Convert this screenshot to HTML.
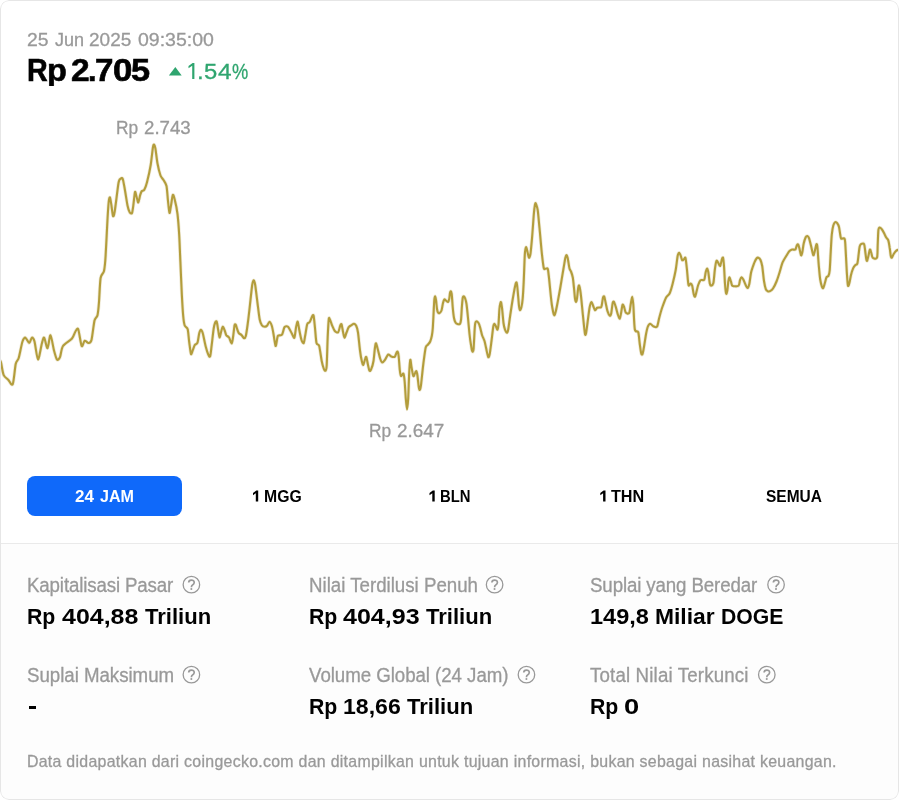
<!DOCTYPE html>
<html><head><meta charset="utf-8"><title>DOGE</title>
<style>
*{margin:0;padding:0;box-sizing:border-box}
html,body{width:899px;height:800px;background:#fff;overflow:hidden}
body{font-family:"Liberation Sans",sans-serif;position:relative}
.card{position:absolute;left:0;top:0;width:899px;height:800px;border-radius:9px;background:#fff;overflow:hidden}
.frame{position:absolute;left:0;top:0;width:899px;height:800px;border:1px solid #e6e6e6;border-radius:9px;pointer-events:none}
.bottom{position:absolute;left:0;top:543px;width:899px;height:257px;background:#fdfdfd;border-top:1px solid #eaeaea}
.t{position:absolute;white-space:nowrap;line-height:1;transform-origin:0 0}
.tl{position:absolute;left:0;top:0;width:899px;height:800px;will-change:transform;opacity:.999}
.gl{position:absolute;line-height:1;transform-origin:0 0;white-space:pre}
.g{color:#999;-webkit-text-stroke:.3px #999}.b{font-weight:700}.k{color:#000}.w{color:#fff}.gr{color:#2fa56f}
.btn{position:absolute;left:27.4px;top:476px;height:40px;width:154.4px;border-radius:8px;background:#0f69fa}
.dash{position:absolute;left:29px;top:706.3px;width:7px;height:2.9px;background:#000}
.q{position:absolute;font-family:"Liberation Sans",sans-serif}
svg.chart{position:absolute;left:0;top:0}
</style></head><body>
<div class="card">
<div class="bottom"></div>
<svg class="chart" width="899" height="800" viewBox="0 0 899 800">
<polygon points="168.9,75.5 181.7,75.5 175.3,66.9" fill="#2fa56f"/>
<polygon points="194.4,63.1 194.4,79.1 192.2,79.1 192.2,65.7 188.5,68.3 188.5,66 192.6,63.1" fill="#2fa56f"/>
<g fill="#000"><polygon points="258.2,490.4 258.2,501.5 255.8,501.5 255.8,493.3 253.0,495.3 253.0,492.9 256.3,490.4"/><polygon points="434.7,490.4 434.7,501.5 432.3,501.5 432.3,493.3 429.5,495.3 429.5,492.9 432.8,490.4"/><polygon points="605.5,490.4 605.5,501.5 603.1,501.5 603.1,493.3 600.3,495.3 600.3,492.9 603.6,490.4"/></g>
<g fill="none" stroke="#b39d3c" stroke-linejoin="round" stroke-linecap="round"><path d="M0.5 361.0C0.6 361.3 0.8 361.2 1.2 363.2C1.6 365.2 2.7 372.9 3.7 375.2C4.7 377.5 6.9 378.4 8.2 379.7C9.5 381.0 11.6 386.4 12.7 384.2C13.8 382.0 14.9 367.7 15.7 364.0C16.5 360.3 17.7 361.1 18.7 358.0C19.7 354.9 21.5 344.3 22.5 341.5C23.5 338.7 24.6 337.5 25.5 337.7C26.4 337.9 28.3 343.0 29.2 343.0C30.1 343.0 31.1 337.9 31.8 337.7C32.5 337.5 33.6 338.4 34.5 341.5C35.4 344.6 37.0 359.3 38.0 359.5C39.0 359.7 41.1 346.1 42.0 343.0C42.9 339.9 43.4 337.0 44.2 337.7C45.0 338.4 46.6 348.6 47.5 348.2C48.4 347.8 49.6 334.9 50.5 335.2C51.4 335.5 53.1 347.1 54.0 350.5C54.9 353.9 56.2 358.6 57.0 359.5C57.8 360.4 59.2 359.1 60.0 357.2C60.8 355.3 61.3 348.6 63.0 346.0C64.7 343.4 70.2 340.6 72.0 338.5C73.8 336.4 74.8 332.3 75.7 331.0C76.6 329.7 77.5 327.4 78.3 329.5C79.1 331.6 80.8 344.4 81.7 346.0C82.6 347.6 83.7 341.1 84.7 340.7C85.7 340.3 87.5 343.1 88.5 343.0C89.5 342.9 90.7 343.1 91.5 340.0C92.3 336.9 93.7 324.0 94.5 320.5C95.3 317.0 96.9 317.8 97.5 315.2C98.1 312.6 98.6 307.2 99.0 302.0C99.4 296.8 99.9 282.3 100.6 278.0C101.3 273.7 103.3 274.1 104.0 271.0C104.7 267.9 105.2 262.4 105.6 256.0C106.0 249.6 106.8 232.6 107.2 225.0C107.6 217.4 108.3 205.8 108.7 202.0C109.1 198.2 109.6 196.9 110.0 197.5C110.4 198.1 111.1 203.4 111.5 206.0C111.9 208.6 112.6 215.2 113.0 216.0C113.4 216.8 113.9 216.1 114.7 211.5C115.5 206.9 117.7 187.6 118.5 183.0C119.3 178.4 120.1 179.4 120.7 178.8C121.3 178.2 122.2 177.6 122.7 178.8C123.2 180.0 123.8 183.8 124.5 187.5C125.2 191.2 126.8 202.0 127.5 205.5C128.2 209.0 129.1 211.1 129.7 212.2C130.3 213.2 131.5 214.1 132.0 213.0C132.5 211.9 133.1 206.9 133.5 204.0C133.9 201.1 134.6 193.1 135.0 192.0C135.4 190.9 136.0 195.0 136.5 196.5C137.0 198.0 137.8 202.7 138.3 202.5C138.8 202.3 139.7 196.6 140.2 195.0C140.7 193.4 141.1 191.9 141.7 191.2C142.3 190.5 143.6 191.0 144.3 189.7C145.0 188.4 146.1 185.7 147.0 182.2C147.9 178.7 149.9 169.9 150.7 165.0C151.5 160.1 152.5 149.8 153.0 147.0C153.5 144.2 153.9 144.5 154.2 144.7C154.5 144.9 154.9 145.9 155.4 148.5C155.9 151.1 156.8 159.7 157.5 163.5C158.2 167.3 159.7 173.2 160.5 175.5C161.3 177.8 162.7 178.5 163.5 180.0C164.3 181.5 165.9 183.1 166.5 186.0C167.1 188.9 167.6 197.2 168.0 201.0C168.4 204.8 169.1 212.4 169.5 213.0C169.9 213.6 170.5 208.0 171.0 205.5C171.5 203.0 172.3 195.8 172.8 195.0C173.3 194.2 174.0 196.8 174.7 199.5C175.4 202.2 176.9 209.0 177.5 214.0C178.1 219.0 178.8 228.3 179.2 235.0C179.6 241.7 180.0 253.7 180.4 262.0C180.8 270.3 181.4 286.4 181.8 294.0C182.2 301.6 182.8 311.6 183.2 316.0C183.6 320.4 184.1 323.7 184.7 325.5C185.3 327.3 187.1 326.9 187.7 329.2C188.3 331.5 188.7 338.5 189.2 342.0C189.7 345.5 190.5 352.9 191.0 354.0C191.5 355.1 192.5 350.8 193.0 349.5C193.5 348.2 194.2 346.0 194.8 345.0C195.4 344.0 196.9 344.4 197.5 342.7C198.1 341.0 198.8 334.8 199.3 333.0C199.8 331.2 200.3 329.7 200.8 329.7C201.3 329.7 202.0 330.6 202.7 333.0C203.4 335.4 204.9 343.5 205.7 346.5C206.5 349.5 207.7 353.3 208.3 354.7C208.9 356.1 209.7 357.6 210.2 356.2C210.7 354.8 211.2 348.9 211.7 345.0C212.2 341.1 213.2 331.6 213.7 328.5C214.2 325.4 214.8 323.5 215.2 322.5C215.6 321.5 216.3 320.6 216.7 321.7C217.1 322.8 217.8 327.8 218.2 330.0C218.6 332.2 219.1 337.3 219.5 337.5C219.9 337.7 220.8 333.0 221.2 331.5C221.6 330.0 222.2 326.9 222.7 326.7C223.2 326.5 224.0 328.8 224.5 330.0C225.0 331.2 225.7 334.1 226.3 335.2C226.9 336.2 228.2 336.3 229.0 337.5C229.8 338.7 231.1 343.7 231.7 343.5C232.3 343.3 232.8 338.5 233.2 336.0C233.6 333.5 234.2 327.1 234.5 325.5C234.8 323.9 235.3 324.2 235.7 324.7C236.1 325.2 236.8 328.0 237.2 329.2C237.6 330.4 238.1 332.2 238.7 333.0C239.3 333.8 241.0 334.5 241.7 335.2C242.4 335.9 243.4 338.1 244.0 338.2C244.6 338.3 245.3 338.0 245.8 336.0C246.3 334.0 247.1 328.4 247.7 324.0C248.3 319.6 249.4 310.0 250.0 304.5C250.6 299.0 251.7 288.4 252.2 285.0C252.7 281.6 253.3 280.2 253.7 280.2C254.1 280.2 254.7 281.8 255.2 285.0C255.7 288.2 256.9 298.2 257.5 303.0C258.1 307.8 259.1 316.4 259.7 319.5C260.3 322.6 261.3 324.5 262.0 325.5C262.7 326.5 264.3 326.7 265.0 326.7C265.7 326.7 266.6 326.2 267.2 325.5C267.8 324.8 268.9 321.7 269.5 321.7C270.1 321.7 271.1 323.8 271.7 325.5C272.3 327.2 273.0 331.1 273.5 334.0C274.0 336.9 275.1 345.4 275.6 346.0C276.1 346.6 276.9 339.5 277.3 338.0C277.7 336.5 277.5 336.0 278.2 335.5C278.9 335.0 281.1 335.9 282.0 334.7C282.9 333.5 283.7 328.3 284.5 327.2C285.3 326.1 287.0 326.0 288.0 326.8C289.0 327.6 290.8 331.7 291.7 333.2C292.6 334.7 293.8 338.6 294.4 337.7C295.0 336.8 295.7 328.7 296.2 326.5C296.7 324.3 297.3 321.3 297.7 321.7C298.1 322.1 298.7 326.9 299.2 329.5C299.7 332.1 300.9 338.1 301.5 340.0C302.1 341.9 303.2 343.6 303.7 343.0C304.2 342.4 304.7 338.1 305.2 335.5C305.7 332.9 306.6 326.1 307.2 324.2C307.8 322.3 309.0 323.1 309.7 322.0C310.4 320.9 311.5 317.6 312.0 316.7C312.5 315.8 313.2 314.1 313.6 315.7C314.0 317.3 314.6 324.2 315.0 328.0C315.4 331.8 315.9 340.5 316.5 343.0C317.1 345.5 318.5 343.5 319.2 346.0C319.9 348.5 321.1 357.9 321.7 361.0C322.3 364.1 323.2 367.1 323.7 368.5C324.2 369.9 325.1 371.1 325.5 370.7C325.9 370.3 326.4 370.2 326.7 365.5C327.0 360.8 327.4 343.5 327.7 337.0C328.0 330.5 328.5 321.4 328.8 319.0C329.1 316.6 329.5 318.8 330.0 319.7C330.5 320.6 331.5 324.1 332.2 325.7C332.9 327.3 334.0 330.1 334.8 331.0C335.6 331.9 337.4 332.9 338.2 332.2C339.0 331.5 339.7 326.8 340.2 325.7C340.7 324.6 341.1 323.4 341.5 324.2C341.9 325.0 342.6 329.8 343.0 331.7C343.4 333.6 344.0 337.6 344.5 337.7C345.0 337.8 345.9 334.0 346.5 332.5C347.1 331.0 348.0 328.2 348.7 327.2C349.4 326.1 351.0 325.5 351.7 325.0C352.4 324.5 353.4 323.7 354.0 323.8C354.6 323.9 355.6 324.5 356.2 325.7C356.8 326.9 357.5 329.0 358.0 332.5C358.5 336.0 359.5 346.5 360.0 350.5C360.5 354.5 361.3 359.0 361.8 361.0C362.3 363.0 362.9 365.2 363.3 365.0C363.7 364.8 364.6 360.6 365.0 359.5C365.4 358.4 365.9 356.4 366.3 357.0C366.7 357.6 367.4 362.1 367.8 364.0C368.2 365.9 369.0 370.0 369.5 370.7C370.0 371.4 370.6 370.6 371.2 369.2C371.8 367.8 373.0 364.0 373.5 361.0C374.0 358.0 374.6 350.0 375.0 347.5C375.4 345.0 375.6 343.1 376.0 343.3C376.4 343.5 377.1 346.8 377.7 349.0C378.3 351.2 379.6 356.8 380.2 358.7C380.8 360.6 381.5 362.3 382.2 362.5C382.9 362.7 384.2 360.9 385.0 359.8C385.8 358.7 387.3 355.0 388.2 354.5C389.1 354.0 390.3 356.2 391.2 356.5C392.1 356.8 394.0 357.3 394.7 356.8C395.4 356.3 396.1 353.4 396.5 352.7C396.9 352.0 397.4 351.2 397.7 351.7C398.0 352.2 398.4 353.9 398.7 356.5C399.0 359.1 399.5 367.3 399.8 370.0C400.1 372.7 400.5 375.5 401.0 376.0C401.5 376.5 403.0 372.9 403.5 373.7C404.0 374.5 404.4 378.5 404.7 382.0C405.0 385.5 405.5 394.6 405.8 398.5C406.1 402.4 406.7 409.5 407.0 409.5C407.3 409.5 407.9 403.6 408.2 398.5C408.5 393.4 408.9 378.4 409.2 373.0C409.5 367.6 410.0 360.6 410.3 359.8C410.6 359.0 411.1 364.7 411.5 367.0C411.9 369.3 412.8 375.1 413.3 376.0C413.8 376.9 414.4 374.4 414.8 373.7C415.2 373.0 415.9 370.9 416.3 371.2C416.7 371.5 417.2 373.9 417.5 376.0C417.8 378.1 418.4 384.5 418.7 386.5C419.0 388.5 419.4 390.2 419.7 390.0C420.0 389.8 420.5 388.9 421.0 385.0C421.5 381.1 422.8 367.8 423.5 362.5C424.2 357.2 425.1 350.0 425.7 347.5C426.3 345.0 427.4 345.3 428.0 344.5C428.6 343.7 429.7 342.7 430.2 341.5C430.7 340.3 431.4 337.9 431.8 336.0C432.2 334.1 432.6 330.9 432.8 328.0C433.0 325.1 433.3 318.9 433.5 315.0C433.7 311.1 434.1 302.6 434.3 300.0C434.5 297.4 435.0 296.3 435.2 296.3C435.4 296.3 435.7 298.2 436.0 300.0C436.3 301.8 436.7 307.2 437.0 309.0C437.3 310.8 437.6 311.9 438.0 312.5C438.4 313.1 439.0 313.3 439.5 313.0C440.0 312.7 441.0 311.9 441.5 310.5C442.0 309.1 442.6 304.5 443.0 303.0C443.4 301.5 443.9 299.9 444.3 299.5C444.7 299.1 445.5 300.1 446.0 300.5C446.5 300.9 447.6 302.2 448.0 302.0C448.4 301.8 448.9 300.3 449.2 299.0C449.5 297.7 449.8 294.1 450.0 293.0C450.2 291.9 450.6 291.2 450.8 291.3C451.0 291.4 451.4 291.8 451.7 294.0C452.0 296.2 452.4 303.6 452.7 307.0C453.0 310.4 453.6 315.8 454.0 318.0C454.4 320.2 455.0 321.7 455.5 322.5C456.0 323.3 456.9 323.8 457.5 324.0C458.1 324.2 459.5 324.4 460.0 323.8C460.5 323.2 460.7 322.2 461.0 320.0C461.3 317.8 461.6 311.1 461.8 308.0C462.0 304.9 462.5 299.6 462.7 298.0C462.9 296.4 463.2 296.3 463.5 296.3C463.8 296.3 464.6 296.9 465.0 298.0C465.4 299.1 466.1 301.2 466.5 304.0C466.9 306.8 467.6 313.8 468.0 318.0C468.4 322.2 469.1 330.2 469.5 334.0C469.9 337.8 470.6 342.7 471.0 345.0C471.4 347.3 471.7 349.6 472.0 350.5C472.3 351.4 472.6 351.9 472.8 351.7C473.0 351.5 473.4 351.8 473.6 349.0C473.8 346.2 474.3 335.6 474.5 332.0C474.7 328.4 475.0 324.5 475.3 323.0C475.6 321.5 476.1 321.2 476.5 321.2C476.9 321.2 478.0 322.2 478.5 323.0C479.0 323.8 479.5 325.3 480.0 327.0C480.5 328.7 481.4 333.0 482.0 335.0C482.6 337.0 483.9 338.9 484.5 341.0C485.1 343.1 486.0 347.7 486.5 350.0C487.0 352.3 487.8 356.7 488.3 357.2C488.8 357.7 489.4 355.8 489.8 353.5C490.2 351.2 491.0 344.8 491.5 341.0C492.0 337.2 492.9 328.9 493.3 326.5C493.7 324.1 494.1 323.7 494.5 323.7C494.9 323.7 495.6 325.7 496.0 326.5C496.4 327.3 497.1 330.0 497.5 329.7C497.9 329.4 498.2 327.3 498.5 324.5C498.8 321.7 499.1 312.6 499.4 309.5C499.7 306.4 500.4 302.2 500.8 302.0C501.2 301.8 501.6 305.1 502.0 308.0C502.4 310.9 503.1 320.0 503.5 323.0C503.9 326.0 504.5 328.3 505.0 329.7C505.5 331.1 506.5 332.8 507.0 332.7C507.5 332.6 507.9 331.4 508.3 329.0C508.7 326.6 509.6 319.5 510.2 315.5C510.8 311.5 511.8 304.7 512.5 300.5C513.2 296.3 514.6 288.2 515.2 285.7C515.8 283.2 516.2 281.9 516.6 282.6C517.0 283.3 517.4 287.7 517.7 291.0C518.0 294.3 518.7 303.3 519.0 306.0C519.3 308.7 519.6 310.1 520.0 310.2C520.4 310.3 521.1 308.3 521.5 306.7C521.9 305.1 522.4 302.0 522.7 298.5C523.0 295.0 523.4 288.1 523.7 282.0C524.0 275.9 524.5 259.9 524.8 255.0C525.1 250.1 525.6 247.6 526.0 247.2C526.4 246.8 527.1 250.5 527.5 252.0C527.9 253.5 528.6 257.5 529.0 257.7C529.4 257.9 530.1 256.2 530.5 253.5C530.9 250.8 531.5 244.0 532.0 238.5C532.5 233.0 533.4 219.3 533.8 214.5C534.2 209.7 534.7 206.1 535.0 204.5C535.3 202.9 535.4 203.0 535.6 203.0C535.8 203.0 535.9 203.5 536.2 204.5C536.5 205.5 537.2 206.7 537.7 210.0C538.2 213.3 538.9 222.1 539.5 228.0C540.1 233.9 541.1 246.4 541.7 252.0C542.3 257.6 543.2 265.3 543.7 267.7C544.2 270.1 544.6 268.6 545.2 268.8C545.8 269.0 547.2 267.8 547.7 268.8C548.2 269.8 548.4 272.9 548.8 276.0C549.2 279.1 549.9 287.0 550.3 291.0C550.7 295.0 551.4 301.5 551.8 304.5C552.2 307.5 553.0 311.2 553.3 312.7C553.6 314.2 553.9 315.2 554.2 315.3C554.5 315.4 554.7 315.2 555.2 313.5C555.7 311.8 556.8 306.8 557.5 303.0C558.2 299.2 559.7 291.3 560.5 286.5C561.3 281.7 562.8 272.5 563.5 268.5C564.2 264.5 564.9 259.9 565.3 258.0C565.7 256.1 566.2 255.0 566.5 255.0C566.8 255.0 567.3 256.1 567.7 258.0C568.1 259.9 569.0 266.6 569.5 268.5C570.0 270.4 570.5 270.2 571.0 271.5C571.5 272.8 572.4 275.2 572.8 277.5C573.2 279.8 573.7 285.1 574.0 288.0C574.3 290.9 574.7 296.5 575.0 298.5C575.3 300.5 575.7 302.0 576.0 302.0C576.3 302.0 576.7 300.5 577.0 298.5C577.3 296.5 577.9 289.8 578.2 288.0C578.5 286.2 578.9 285.0 579.2 285.6C579.5 286.2 580.1 289.1 580.5 292.0C580.9 294.9 581.6 301.7 582.0 306.0C582.4 310.3 583.3 319.1 583.7 323.0C584.1 326.9 584.7 332.5 585.0 334.0C585.3 335.5 585.6 335.0 586.0 333.5C586.4 332.0 587.0 326.7 587.5 323.0C588.0 319.3 589.1 309.9 589.7 307.0C590.3 304.1 591.0 302.1 591.5 302.0C592.0 301.9 592.7 304.9 593.2 306.0C593.7 307.1 594.4 309.9 595.0 310.2C595.6 310.5 596.4 308.2 597.2 307.8C598.0 307.4 600.4 307.7 601.0 307.3C601.6 306.9 601.5 306.3 601.8 305.0C602.1 303.7 602.7 298.9 603.0 297.7C603.3 296.5 603.8 295.8 604.2 296.5C604.6 297.2 605.2 300.9 605.7 303.0C606.2 305.1 606.9 309.4 607.5 311.2C608.1 313.0 609.2 315.4 609.7 315.7C610.2 316.0 610.8 315.3 611.2 313.5C611.6 311.7 612.3 304.6 612.7 303.0C613.1 301.4 613.6 301.3 614.0 301.8C614.4 302.3 615.1 304.9 615.7 306.7C616.3 308.5 617.4 313.3 618.0 315.0C618.6 316.7 619.4 318.9 619.8 318.7C620.2 318.5 620.6 315.4 621.0 313.5C621.4 311.6 622.1 305.8 622.5 304.8C622.9 303.8 623.5 305.6 624.0 306.7C624.5 307.8 625.1 311.8 625.8 312.7C626.5 313.6 628.5 314.1 629.2 313.0C629.9 311.9 630.3 306.8 630.7 304.5C631.1 302.2 631.8 296.7 632.2 296.7C632.6 296.7 632.9 299.9 633.3 304.5C633.7 309.1 634.1 325.3 634.8 329.2C635.5 333.1 637.5 330.2 638.2 332.2C638.9 334.2 639.3 340.6 639.7 343.5C640.1 346.4 640.8 351.7 641.2 353.2C641.6 354.7 642.0 355.0 642.4 354.3C642.8 353.6 643.3 350.6 643.8 348.0C644.3 345.4 645.2 338.9 645.7 336.0C646.2 333.1 647.1 328.7 647.7 327.0C648.3 325.3 649.4 323.8 650.2 323.7C651.0 323.6 652.2 325.8 653.2 326.2C654.2 326.6 656.2 327.8 657.0 326.7C657.8 325.6 658.5 320.7 659.2 318.0C659.9 315.3 661.2 310.3 662.2 307.5C663.2 304.7 665.0 299.7 666.0 297.7C667.0 295.7 668.8 295.2 669.7 293.2C670.6 291.2 671.9 286.7 672.7 283.5C673.5 280.3 675.0 273.9 675.7 270.0C676.4 266.1 677.2 258.1 677.7 255.7C678.2 253.3 678.8 252.7 679.2 252.7C679.6 252.7 680.3 254.6 680.7 255.7C681.1 256.8 681.7 259.7 682.2 260.2C682.7 260.7 683.5 259.5 684.0 259.2C684.5 258.9 685.1 256.5 685.5 258.0C685.9 259.5 686.6 266.2 687.0 270.0C687.4 273.8 688.0 283.1 688.5 285.0C689.0 286.9 690.2 283.4 690.7 283.5C691.2 283.6 691.8 284.2 692.2 285.7C692.6 287.2 693.3 292.5 693.7 294.0C694.1 295.5 694.6 296.9 695.0 296.7C695.4 296.5 695.9 294.1 696.3 292.5C696.7 290.9 697.6 286.7 698.2 285.0C698.8 283.3 699.7 280.9 700.5 280.2C701.3 279.5 703.5 280.8 704.2 279.7C704.9 278.6 705.3 273.8 705.7 272.2C706.1 270.6 706.8 268.5 707.2 268.5C707.6 268.5 707.9 270.1 708.3 272.2C708.7 274.3 709.4 281.6 709.8 283.5C710.2 285.4 710.5 285.8 711.0 285.7C711.5 285.6 712.9 285.2 713.4 283.0C713.9 280.8 714.4 273.1 714.8 270.0C715.2 266.9 716.0 262.1 716.4 261.0C716.8 259.9 717.5 261.6 718.0 262.3C718.5 263.0 719.7 266.3 720.2 266.0C720.7 265.7 721.3 261.2 721.7 260.0C722.1 258.8 722.7 256.9 723.0 257.7C723.3 258.5 723.7 262.3 724.0 266.0C724.3 269.7 724.7 280.1 725.0 284.0C725.3 287.9 725.9 292.9 726.2 293.7C726.5 294.5 727.1 291.8 727.4 290.0C727.7 288.2 728.1 282.8 728.4 281.0C728.7 279.2 729.1 277.1 729.5 277.2C729.9 277.3 730.6 280.5 731.0 281.7C731.4 282.9 731.5 285.2 732.5 285.8C733.5 286.4 737.5 286.6 738.5 285.8C739.5 285.0 739.6 281.4 740.0 280.2C740.4 279.0 741.0 277.3 741.5 277.2C742.0 277.1 742.7 278.3 743.3 279.5C743.9 280.7 745.4 284.6 746.0 285.8C746.6 287.0 747.3 288.3 747.8 288.0C748.3 287.7 748.8 286.2 749.3 284.0C749.8 281.8 750.5 274.9 751.2 272.0C751.9 269.1 753.5 264.9 754.2 263.0C754.9 261.1 755.9 259.2 756.5 258.5C757.1 257.8 757.7 257.5 758.3 257.7C758.9 257.9 760.0 258.8 760.5 260.0C761.0 261.2 761.7 263.1 762.2 266.0C762.7 268.9 763.5 277.8 764.0 281.0C764.5 284.2 765.3 287.8 765.8 289.2C766.3 290.6 767.1 290.9 767.7 291.2C768.3 291.5 769.3 291.6 770.0 291.2C770.7 290.8 772.1 289.9 773.0 288.5C773.9 287.1 775.8 283.3 776.7 281.0C777.6 278.7 778.9 274.6 779.7 272.0C780.5 269.4 781.7 264.5 782.7 262.2C783.7 259.9 785.5 257.1 786.5 255.5C787.5 253.9 788.7 251.8 789.5 251.0C790.3 250.2 791.4 249.7 792.2 249.5C793.0 249.3 794.8 250.1 795.4 249.5C796.0 248.9 796.4 246.2 796.8 245.5C797.2 244.8 797.7 243.9 798.1 244.4C798.5 244.9 799.1 247.3 799.5 248.8C799.9 250.3 800.6 254.6 801.0 255.2C801.4 255.8 801.8 254.4 802.2 252.8C802.6 251.2 803.2 245.7 803.7 243.5C804.2 241.3 805.2 238.4 805.7 237.3C806.2 236.2 806.9 235.9 807.4 236.0C807.9 236.1 808.5 236.7 809.0 238.2C809.5 239.7 810.6 244.1 811.2 246.5C811.8 248.9 812.8 254.5 813.3 255.2C813.8 255.9 814.3 253.0 814.7 251.5C815.1 250.0 816.1 244.7 816.5 244.2C816.9 243.7 817.2 245.2 817.5 248.0C817.8 250.8 818.3 260.1 818.7 264.5C819.1 268.9 819.7 276.4 820.2 279.5C820.7 282.6 821.6 285.8 822.0 287.0C822.4 288.2 822.9 288.4 823.3 287.8C823.7 287.2 824.6 284.0 825.0 282.5C825.4 281.0 826.0 278.2 826.5 277.2C827.0 276.2 828.1 276.6 828.5 275.7C828.9 274.8 829.4 273.7 829.7 270.5C830.0 267.3 830.4 257.5 830.7 252.5C831.0 247.5 831.4 238.3 831.8 234.5C832.2 230.7 832.8 227.2 833.3 225.5C833.8 223.8 834.7 222.5 835.2 222.2C835.7 221.9 836.7 222.5 837.2 223.2C837.7 223.9 838.6 225.4 839.0 227.0C839.4 228.6 839.9 232.9 840.2 234.5C840.5 236.1 840.6 238.1 841.2 238.7C841.8 239.3 844.1 237.3 844.7 239.0C845.3 240.7 845.4 246.4 845.7 251.0C846.0 255.6 846.5 267.4 846.8 272.0C847.1 276.6 847.5 282.0 847.7 284.0C847.9 286.0 848.1 286.2 848.4 286.0C848.7 285.8 849.1 284.0 849.5 282.5C849.9 281.0 850.5 277.0 851.0 275.0C851.5 273.0 852.6 269.6 853.2 268.2C853.8 266.8 854.6 265.8 855.2 265.2C855.8 264.6 856.8 265.1 857.3 263.7C857.8 262.3 858.2 257.9 858.5 255.5C858.8 253.1 859.3 248.1 859.7 246.5C860.1 244.9 860.6 244.3 861.2 244.0C861.8 243.7 863.4 243.0 864.0 244.0C864.6 245.0 864.9 248.9 865.2 251.0C865.5 253.1 866.0 257.8 866.3 259.2C866.6 260.6 866.9 261.2 867.2 260.7C867.5 260.2 868.1 257.1 868.5 255.5C868.9 253.9 869.5 249.9 869.9 249.5C870.3 249.1 870.8 251.4 871.2 252.5C871.6 253.6 871.9 257.0 872.7 257.7C873.5 258.4 876.3 259.5 877.0 257.7C877.7 255.9 877.5 248.9 877.7 245.0C877.9 241.1 878.1 232.4 878.4 230.0C878.7 227.6 879.0 227.6 879.5 227.5C880.0 227.4 881.1 228.4 881.7 229.2C882.3 230.0 883.4 231.8 884.0 233.0C884.6 234.2 885.6 236.5 886.2 237.5C886.8 238.5 887.7 238.7 888.2 240.2C888.7 241.7 889.4 245.9 889.7 248.0C890.1 250.1 890.4 254.1 890.7 255.5C891.0 256.9 891.4 257.9 891.8 257.7C892.2 257.5 893.1 254.9 893.7 254.0C894.3 253.1 895.4 251.6 896.0 251.0C896.6 250.4 897.5 250.0 897.8 249.8" stroke-width="3.6" stroke-opacity=".2"/><path d="M0.5 361.0C0.6 361.3 0.8 361.2 1.2 363.2C1.6 365.2 2.7 372.9 3.7 375.2C4.7 377.5 6.9 378.4 8.2 379.7C9.5 381.0 11.6 386.4 12.7 384.2C13.8 382.0 14.9 367.7 15.7 364.0C16.5 360.3 17.7 361.1 18.7 358.0C19.7 354.9 21.5 344.3 22.5 341.5C23.5 338.7 24.6 337.5 25.5 337.7C26.4 337.9 28.3 343.0 29.2 343.0C30.1 343.0 31.1 337.9 31.8 337.7C32.5 337.5 33.6 338.4 34.5 341.5C35.4 344.6 37.0 359.3 38.0 359.5C39.0 359.7 41.1 346.1 42.0 343.0C42.9 339.9 43.4 337.0 44.2 337.7C45.0 338.4 46.6 348.6 47.5 348.2C48.4 347.8 49.6 334.9 50.5 335.2C51.4 335.5 53.1 347.1 54.0 350.5C54.9 353.9 56.2 358.6 57.0 359.5C57.8 360.4 59.2 359.1 60.0 357.2C60.8 355.3 61.3 348.6 63.0 346.0C64.7 343.4 70.2 340.6 72.0 338.5C73.8 336.4 74.8 332.3 75.7 331.0C76.6 329.7 77.5 327.4 78.3 329.5C79.1 331.6 80.8 344.4 81.7 346.0C82.6 347.6 83.7 341.1 84.7 340.7C85.7 340.3 87.5 343.1 88.5 343.0C89.5 342.9 90.7 343.1 91.5 340.0C92.3 336.9 93.7 324.0 94.5 320.5C95.3 317.0 96.9 317.8 97.5 315.2C98.1 312.6 98.6 307.2 99.0 302.0C99.4 296.8 99.9 282.3 100.6 278.0C101.3 273.7 103.3 274.1 104.0 271.0C104.7 267.9 105.2 262.4 105.6 256.0C106.0 249.6 106.8 232.6 107.2 225.0C107.6 217.4 108.3 205.8 108.7 202.0C109.1 198.2 109.6 196.9 110.0 197.5C110.4 198.1 111.1 203.4 111.5 206.0C111.9 208.6 112.6 215.2 113.0 216.0C113.4 216.8 113.9 216.1 114.7 211.5C115.5 206.9 117.7 187.6 118.5 183.0C119.3 178.4 120.1 179.4 120.7 178.8C121.3 178.2 122.2 177.6 122.7 178.8C123.2 180.0 123.8 183.8 124.5 187.5C125.2 191.2 126.8 202.0 127.5 205.5C128.2 209.0 129.1 211.1 129.7 212.2C130.3 213.2 131.5 214.1 132.0 213.0C132.5 211.9 133.1 206.9 133.5 204.0C133.9 201.1 134.6 193.1 135.0 192.0C135.4 190.9 136.0 195.0 136.5 196.5C137.0 198.0 137.8 202.7 138.3 202.5C138.8 202.3 139.7 196.6 140.2 195.0C140.7 193.4 141.1 191.9 141.7 191.2C142.3 190.5 143.6 191.0 144.3 189.7C145.0 188.4 146.1 185.7 147.0 182.2C147.9 178.7 149.9 169.9 150.7 165.0C151.5 160.1 152.5 149.8 153.0 147.0C153.5 144.2 153.9 144.5 154.2 144.7C154.5 144.9 154.9 145.9 155.4 148.5C155.9 151.1 156.8 159.7 157.5 163.5C158.2 167.3 159.7 173.2 160.5 175.5C161.3 177.8 162.7 178.5 163.5 180.0C164.3 181.5 165.9 183.1 166.5 186.0C167.1 188.9 167.6 197.2 168.0 201.0C168.4 204.8 169.1 212.4 169.5 213.0C169.9 213.6 170.5 208.0 171.0 205.5C171.5 203.0 172.3 195.8 172.8 195.0C173.3 194.2 174.0 196.8 174.7 199.5C175.4 202.2 176.9 209.0 177.5 214.0C178.1 219.0 178.8 228.3 179.2 235.0C179.6 241.7 180.0 253.7 180.4 262.0C180.8 270.3 181.4 286.4 181.8 294.0C182.2 301.6 182.8 311.6 183.2 316.0C183.6 320.4 184.1 323.7 184.7 325.5C185.3 327.3 187.1 326.9 187.7 329.2C188.3 331.5 188.7 338.5 189.2 342.0C189.7 345.5 190.5 352.9 191.0 354.0C191.5 355.1 192.5 350.8 193.0 349.5C193.5 348.2 194.2 346.0 194.8 345.0C195.4 344.0 196.9 344.4 197.5 342.7C198.1 341.0 198.8 334.8 199.3 333.0C199.8 331.2 200.3 329.7 200.8 329.7C201.3 329.7 202.0 330.6 202.7 333.0C203.4 335.4 204.9 343.5 205.7 346.5C206.5 349.5 207.7 353.3 208.3 354.7C208.9 356.1 209.7 357.6 210.2 356.2C210.7 354.8 211.2 348.9 211.7 345.0C212.2 341.1 213.2 331.6 213.7 328.5C214.2 325.4 214.8 323.5 215.2 322.5C215.6 321.5 216.3 320.6 216.7 321.7C217.1 322.8 217.8 327.8 218.2 330.0C218.6 332.2 219.1 337.3 219.5 337.5C219.9 337.7 220.8 333.0 221.2 331.5C221.6 330.0 222.2 326.9 222.7 326.7C223.2 326.5 224.0 328.8 224.5 330.0C225.0 331.2 225.7 334.1 226.3 335.2C226.9 336.2 228.2 336.3 229.0 337.5C229.8 338.7 231.1 343.7 231.7 343.5C232.3 343.3 232.8 338.5 233.2 336.0C233.6 333.5 234.2 327.1 234.5 325.5C234.8 323.9 235.3 324.2 235.7 324.7C236.1 325.2 236.8 328.0 237.2 329.2C237.6 330.4 238.1 332.2 238.7 333.0C239.3 333.8 241.0 334.5 241.7 335.2C242.4 335.9 243.4 338.1 244.0 338.2C244.6 338.3 245.3 338.0 245.8 336.0C246.3 334.0 247.1 328.4 247.7 324.0C248.3 319.6 249.4 310.0 250.0 304.5C250.6 299.0 251.7 288.4 252.2 285.0C252.7 281.6 253.3 280.2 253.7 280.2C254.1 280.2 254.7 281.8 255.2 285.0C255.7 288.2 256.9 298.2 257.5 303.0C258.1 307.8 259.1 316.4 259.7 319.5C260.3 322.6 261.3 324.5 262.0 325.5C262.7 326.5 264.3 326.7 265.0 326.7C265.7 326.7 266.6 326.2 267.2 325.5C267.8 324.8 268.9 321.7 269.5 321.7C270.1 321.7 271.1 323.8 271.7 325.5C272.3 327.2 273.0 331.1 273.5 334.0C274.0 336.9 275.1 345.4 275.6 346.0C276.1 346.6 276.9 339.5 277.3 338.0C277.7 336.5 277.5 336.0 278.2 335.5C278.9 335.0 281.1 335.9 282.0 334.7C282.9 333.5 283.7 328.3 284.5 327.2C285.3 326.1 287.0 326.0 288.0 326.8C289.0 327.6 290.8 331.7 291.7 333.2C292.6 334.7 293.8 338.6 294.4 337.7C295.0 336.8 295.7 328.7 296.2 326.5C296.7 324.3 297.3 321.3 297.7 321.7C298.1 322.1 298.7 326.9 299.2 329.5C299.7 332.1 300.9 338.1 301.5 340.0C302.1 341.9 303.2 343.6 303.7 343.0C304.2 342.4 304.7 338.1 305.2 335.5C305.7 332.9 306.6 326.1 307.2 324.2C307.8 322.3 309.0 323.1 309.7 322.0C310.4 320.9 311.5 317.6 312.0 316.7C312.5 315.8 313.2 314.1 313.6 315.7C314.0 317.3 314.6 324.2 315.0 328.0C315.4 331.8 315.9 340.5 316.5 343.0C317.1 345.5 318.5 343.5 319.2 346.0C319.9 348.5 321.1 357.9 321.7 361.0C322.3 364.1 323.2 367.1 323.7 368.5C324.2 369.9 325.1 371.1 325.5 370.7C325.9 370.3 326.4 370.2 326.7 365.5C327.0 360.8 327.4 343.5 327.7 337.0C328.0 330.5 328.5 321.4 328.8 319.0C329.1 316.6 329.5 318.8 330.0 319.7C330.5 320.6 331.5 324.1 332.2 325.7C332.9 327.3 334.0 330.1 334.8 331.0C335.6 331.9 337.4 332.9 338.2 332.2C339.0 331.5 339.7 326.8 340.2 325.7C340.7 324.6 341.1 323.4 341.5 324.2C341.9 325.0 342.6 329.8 343.0 331.7C343.4 333.6 344.0 337.6 344.5 337.7C345.0 337.8 345.9 334.0 346.5 332.5C347.1 331.0 348.0 328.2 348.7 327.2C349.4 326.1 351.0 325.5 351.7 325.0C352.4 324.5 353.4 323.7 354.0 323.8C354.6 323.9 355.6 324.5 356.2 325.7C356.8 326.9 357.5 329.0 358.0 332.5C358.5 336.0 359.5 346.5 360.0 350.5C360.5 354.5 361.3 359.0 361.8 361.0C362.3 363.0 362.9 365.2 363.3 365.0C363.7 364.8 364.6 360.6 365.0 359.5C365.4 358.4 365.9 356.4 366.3 357.0C366.7 357.6 367.4 362.1 367.8 364.0C368.2 365.9 369.0 370.0 369.5 370.7C370.0 371.4 370.6 370.6 371.2 369.2C371.8 367.8 373.0 364.0 373.5 361.0C374.0 358.0 374.6 350.0 375.0 347.5C375.4 345.0 375.6 343.1 376.0 343.3C376.4 343.5 377.1 346.8 377.7 349.0C378.3 351.2 379.6 356.8 380.2 358.7C380.8 360.6 381.5 362.3 382.2 362.5C382.9 362.7 384.2 360.9 385.0 359.8C385.8 358.7 387.3 355.0 388.2 354.5C389.1 354.0 390.3 356.2 391.2 356.5C392.1 356.8 394.0 357.3 394.7 356.8C395.4 356.3 396.1 353.4 396.5 352.7C396.9 352.0 397.4 351.2 397.7 351.7C398.0 352.2 398.4 353.9 398.7 356.5C399.0 359.1 399.5 367.3 399.8 370.0C400.1 372.7 400.5 375.5 401.0 376.0C401.5 376.5 403.0 372.9 403.5 373.7C404.0 374.5 404.4 378.5 404.7 382.0C405.0 385.5 405.5 394.6 405.8 398.5C406.1 402.4 406.7 409.5 407.0 409.5C407.3 409.5 407.9 403.6 408.2 398.5C408.5 393.4 408.9 378.4 409.2 373.0C409.5 367.6 410.0 360.6 410.3 359.8C410.6 359.0 411.1 364.7 411.5 367.0C411.9 369.3 412.8 375.1 413.3 376.0C413.8 376.9 414.4 374.4 414.8 373.7C415.2 373.0 415.9 370.9 416.3 371.2C416.7 371.5 417.2 373.9 417.5 376.0C417.8 378.1 418.4 384.5 418.7 386.5C419.0 388.5 419.4 390.2 419.7 390.0C420.0 389.8 420.5 388.9 421.0 385.0C421.5 381.1 422.8 367.8 423.5 362.5C424.2 357.2 425.1 350.0 425.7 347.5C426.3 345.0 427.4 345.3 428.0 344.5C428.6 343.7 429.7 342.7 430.2 341.5C430.7 340.3 431.4 337.9 431.8 336.0C432.2 334.1 432.6 330.9 432.8 328.0C433.0 325.1 433.3 318.9 433.5 315.0C433.7 311.1 434.1 302.6 434.3 300.0C434.5 297.4 435.0 296.3 435.2 296.3C435.4 296.3 435.7 298.2 436.0 300.0C436.3 301.8 436.7 307.2 437.0 309.0C437.3 310.8 437.6 311.9 438.0 312.5C438.4 313.1 439.0 313.3 439.5 313.0C440.0 312.7 441.0 311.9 441.5 310.5C442.0 309.1 442.6 304.5 443.0 303.0C443.4 301.5 443.9 299.9 444.3 299.5C444.7 299.1 445.5 300.1 446.0 300.5C446.5 300.9 447.6 302.2 448.0 302.0C448.4 301.8 448.9 300.3 449.2 299.0C449.5 297.7 449.8 294.1 450.0 293.0C450.2 291.9 450.6 291.2 450.8 291.3C451.0 291.4 451.4 291.8 451.7 294.0C452.0 296.2 452.4 303.6 452.7 307.0C453.0 310.4 453.6 315.8 454.0 318.0C454.4 320.2 455.0 321.7 455.5 322.5C456.0 323.3 456.9 323.8 457.5 324.0C458.1 324.2 459.5 324.4 460.0 323.8C460.5 323.2 460.7 322.2 461.0 320.0C461.3 317.8 461.6 311.1 461.8 308.0C462.0 304.9 462.5 299.6 462.7 298.0C462.9 296.4 463.2 296.3 463.5 296.3C463.8 296.3 464.6 296.9 465.0 298.0C465.4 299.1 466.1 301.2 466.5 304.0C466.9 306.8 467.6 313.8 468.0 318.0C468.4 322.2 469.1 330.2 469.5 334.0C469.9 337.8 470.6 342.7 471.0 345.0C471.4 347.3 471.7 349.6 472.0 350.5C472.3 351.4 472.6 351.9 472.8 351.7C473.0 351.5 473.4 351.8 473.6 349.0C473.8 346.2 474.3 335.6 474.5 332.0C474.7 328.4 475.0 324.5 475.3 323.0C475.6 321.5 476.1 321.2 476.5 321.2C476.9 321.2 478.0 322.2 478.5 323.0C479.0 323.8 479.5 325.3 480.0 327.0C480.5 328.7 481.4 333.0 482.0 335.0C482.6 337.0 483.9 338.9 484.5 341.0C485.1 343.1 486.0 347.7 486.5 350.0C487.0 352.3 487.8 356.7 488.3 357.2C488.8 357.7 489.4 355.8 489.8 353.5C490.2 351.2 491.0 344.8 491.5 341.0C492.0 337.2 492.9 328.9 493.3 326.5C493.7 324.1 494.1 323.7 494.5 323.7C494.9 323.7 495.6 325.7 496.0 326.5C496.4 327.3 497.1 330.0 497.5 329.7C497.9 329.4 498.2 327.3 498.5 324.5C498.8 321.7 499.1 312.6 499.4 309.5C499.7 306.4 500.4 302.2 500.8 302.0C501.2 301.8 501.6 305.1 502.0 308.0C502.4 310.9 503.1 320.0 503.5 323.0C503.9 326.0 504.5 328.3 505.0 329.7C505.5 331.1 506.5 332.8 507.0 332.7C507.5 332.6 507.9 331.4 508.3 329.0C508.7 326.6 509.6 319.5 510.2 315.5C510.8 311.5 511.8 304.7 512.5 300.5C513.2 296.3 514.6 288.2 515.2 285.7C515.8 283.2 516.2 281.9 516.6 282.6C517.0 283.3 517.4 287.7 517.7 291.0C518.0 294.3 518.7 303.3 519.0 306.0C519.3 308.7 519.6 310.1 520.0 310.2C520.4 310.3 521.1 308.3 521.5 306.7C521.9 305.1 522.4 302.0 522.7 298.5C523.0 295.0 523.4 288.1 523.7 282.0C524.0 275.9 524.5 259.9 524.8 255.0C525.1 250.1 525.6 247.6 526.0 247.2C526.4 246.8 527.1 250.5 527.5 252.0C527.9 253.5 528.6 257.5 529.0 257.7C529.4 257.9 530.1 256.2 530.5 253.5C530.9 250.8 531.5 244.0 532.0 238.5C532.5 233.0 533.4 219.3 533.8 214.5C534.2 209.7 534.7 206.1 535.0 204.5C535.3 202.9 535.4 203.0 535.6 203.0C535.8 203.0 535.9 203.5 536.2 204.5C536.5 205.5 537.2 206.7 537.7 210.0C538.2 213.3 538.9 222.1 539.5 228.0C540.1 233.9 541.1 246.4 541.7 252.0C542.3 257.6 543.2 265.3 543.7 267.7C544.2 270.1 544.6 268.6 545.2 268.8C545.8 269.0 547.2 267.8 547.7 268.8C548.2 269.8 548.4 272.9 548.8 276.0C549.2 279.1 549.9 287.0 550.3 291.0C550.7 295.0 551.4 301.5 551.8 304.5C552.2 307.5 553.0 311.2 553.3 312.7C553.6 314.2 553.9 315.2 554.2 315.3C554.5 315.4 554.7 315.2 555.2 313.5C555.7 311.8 556.8 306.8 557.5 303.0C558.2 299.2 559.7 291.3 560.5 286.5C561.3 281.7 562.8 272.5 563.5 268.5C564.2 264.5 564.9 259.9 565.3 258.0C565.7 256.1 566.2 255.0 566.5 255.0C566.8 255.0 567.3 256.1 567.7 258.0C568.1 259.9 569.0 266.6 569.5 268.5C570.0 270.4 570.5 270.2 571.0 271.5C571.5 272.8 572.4 275.2 572.8 277.5C573.2 279.8 573.7 285.1 574.0 288.0C574.3 290.9 574.7 296.5 575.0 298.5C575.3 300.5 575.7 302.0 576.0 302.0C576.3 302.0 576.7 300.5 577.0 298.5C577.3 296.5 577.9 289.8 578.2 288.0C578.5 286.2 578.9 285.0 579.2 285.6C579.5 286.2 580.1 289.1 580.5 292.0C580.9 294.9 581.6 301.7 582.0 306.0C582.4 310.3 583.3 319.1 583.7 323.0C584.1 326.9 584.7 332.5 585.0 334.0C585.3 335.5 585.6 335.0 586.0 333.5C586.4 332.0 587.0 326.7 587.5 323.0C588.0 319.3 589.1 309.9 589.7 307.0C590.3 304.1 591.0 302.1 591.5 302.0C592.0 301.9 592.7 304.9 593.2 306.0C593.7 307.1 594.4 309.9 595.0 310.2C595.6 310.5 596.4 308.2 597.2 307.8C598.0 307.4 600.4 307.7 601.0 307.3C601.6 306.9 601.5 306.3 601.8 305.0C602.1 303.7 602.7 298.9 603.0 297.7C603.3 296.5 603.8 295.8 604.2 296.5C604.6 297.2 605.2 300.9 605.7 303.0C606.2 305.1 606.9 309.4 607.5 311.2C608.1 313.0 609.2 315.4 609.7 315.7C610.2 316.0 610.8 315.3 611.2 313.5C611.6 311.7 612.3 304.6 612.7 303.0C613.1 301.4 613.6 301.3 614.0 301.8C614.4 302.3 615.1 304.9 615.7 306.7C616.3 308.5 617.4 313.3 618.0 315.0C618.6 316.7 619.4 318.9 619.8 318.7C620.2 318.5 620.6 315.4 621.0 313.5C621.4 311.6 622.1 305.8 622.5 304.8C622.9 303.8 623.5 305.6 624.0 306.7C624.5 307.8 625.1 311.8 625.8 312.7C626.5 313.6 628.5 314.1 629.2 313.0C629.9 311.9 630.3 306.8 630.7 304.5C631.1 302.2 631.8 296.7 632.2 296.7C632.6 296.7 632.9 299.9 633.3 304.5C633.7 309.1 634.1 325.3 634.8 329.2C635.5 333.1 637.5 330.2 638.2 332.2C638.9 334.2 639.3 340.6 639.7 343.5C640.1 346.4 640.8 351.7 641.2 353.2C641.6 354.7 642.0 355.0 642.4 354.3C642.8 353.6 643.3 350.6 643.8 348.0C644.3 345.4 645.2 338.9 645.7 336.0C646.2 333.1 647.1 328.7 647.7 327.0C648.3 325.3 649.4 323.8 650.2 323.7C651.0 323.6 652.2 325.8 653.2 326.2C654.2 326.6 656.2 327.8 657.0 326.7C657.8 325.6 658.5 320.7 659.2 318.0C659.9 315.3 661.2 310.3 662.2 307.5C663.2 304.7 665.0 299.7 666.0 297.7C667.0 295.7 668.8 295.2 669.7 293.2C670.6 291.2 671.9 286.7 672.7 283.5C673.5 280.3 675.0 273.9 675.7 270.0C676.4 266.1 677.2 258.1 677.7 255.7C678.2 253.3 678.8 252.7 679.2 252.7C679.6 252.7 680.3 254.6 680.7 255.7C681.1 256.8 681.7 259.7 682.2 260.2C682.7 260.7 683.5 259.5 684.0 259.2C684.5 258.9 685.1 256.5 685.5 258.0C685.9 259.5 686.6 266.2 687.0 270.0C687.4 273.8 688.0 283.1 688.5 285.0C689.0 286.9 690.2 283.4 690.7 283.5C691.2 283.6 691.8 284.2 692.2 285.7C692.6 287.2 693.3 292.5 693.7 294.0C694.1 295.5 694.6 296.9 695.0 296.7C695.4 296.5 695.9 294.1 696.3 292.5C696.7 290.9 697.6 286.7 698.2 285.0C698.8 283.3 699.7 280.9 700.5 280.2C701.3 279.5 703.5 280.8 704.2 279.7C704.9 278.6 705.3 273.8 705.7 272.2C706.1 270.6 706.8 268.5 707.2 268.5C707.6 268.5 707.9 270.1 708.3 272.2C708.7 274.3 709.4 281.6 709.8 283.5C710.2 285.4 710.5 285.8 711.0 285.7C711.5 285.6 712.9 285.2 713.4 283.0C713.9 280.8 714.4 273.1 714.8 270.0C715.2 266.9 716.0 262.1 716.4 261.0C716.8 259.9 717.5 261.6 718.0 262.3C718.5 263.0 719.7 266.3 720.2 266.0C720.7 265.7 721.3 261.2 721.7 260.0C722.1 258.8 722.7 256.9 723.0 257.7C723.3 258.5 723.7 262.3 724.0 266.0C724.3 269.7 724.7 280.1 725.0 284.0C725.3 287.9 725.9 292.9 726.2 293.7C726.5 294.5 727.1 291.8 727.4 290.0C727.7 288.2 728.1 282.8 728.4 281.0C728.7 279.2 729.1 277.1 729.5 277.2C729.9 277.3 730.6 280.5 731.0 281.7C731.4 282.9 731.5 285.2 732.5 285.8C733.5 286.4 737.5 286.6 738.5 285.8C739.5 285.0 739.6 281.4 740.0 280.2C740.4 279.0 741.0 277.3 741.5 277.2C742.0 277.1 742.7 278.3 743.3 279.5C743.9 280.7 745.4 284.6 746.0 285.8C746.6 287.0 747.3 288.3 747.8 288.0C748.3 287.7 748.8 286.2 749.3 284.0C749.8 281.8 750.5 274.9 751.2 272.0C751.9 269.1 753.5 264.9 754.2 263.0C754.9 261.1 755.9 259.2 756.5 258.5C757.1 257.8 757.7 257.5 758.3 257.7C758.9 257.9 760.0 258.8 760.5 260.0C761.0 261.2 761.7 263.1 762.2 266.0C762.7 268.9 763.5 277.8 764.0 281.0C764.5 284.2 765.3 287.8 765.8 289.2C766.3 290.6 767.1 290.9 767.7 291.2C768.3 291.5 769.3 291.6 770.0 291.2C770.7 290.8 772.1 289.9 773.0 288.5C773.9 287.1 775.8 283.3 776.7 281.0C777.6 278.7 778.9 274.6 779.7 272.0C780.5 269.4 781.7 264.5 782.7 262.2C783.7 259.9 785.5 257.1 786.5 255.5C787.5 253.9 788.7 251.8 789.5 251.0C790.3 250.2 791.4 249.7 792.2 249.5C793.0 249.3 794.8 250.1 795.4 249.5C796.0 248.9 796.4 246.2 796.8 245.5C797.2 244.8 797.7 243.9 798.1 244.4C798.5 244.9 799.1 247.3 799.5 248.8C799.9 250.3 800.6 254.6 801.0 255.2C801.4 255.8 801.8 254.4 802.2 252.8C802.6 251.2 803.2 245.7 803.7 243.5C804.2 241.3 805.2 238.4 805.7 237.3C806.2 236.2 806.9 235.9 807.4 236.0C807.9 236.1 808.5 236.7 809.0 238.2C809.5 239.7 810.6 244.1 811.2 246.5C811.8 248.9 812.8 254.5 813.3 255.2C813.8 255.9 814.3 253.0 814.7 251.5C815.1 250.0 816.1 244.7 816.5 244.2C816.9 243.7 817.2 245.2 817.5 248.0C817.8 250.8 818.3 260.1 818.7 264.5C819.1 268.9 819.7 276.4 820.2 279.5C820.7 282.6 821.6 285.8 822.0 287.0C822.4 288.2 822.9 288.4 823.3 287.8C823.7 287.2 824.6 284.0 825.0 282.5C825.4 281.0 826.0 278.2 826.5 277.2C827.0 276.2 828.1 276.6 828.5 275.7C828.9 274.8 829.4 273.7 829.7 270.5C830.0 267.3 830.4 257.5 830.7 252.5C831.0 247.5 831.4 238.3 831.8 234.5C832.2 230.7 832.8 227.2 833.3 225.5C833.8 223.8 834.7 222.5 835.2 222.2C835.7 221.9 836.7 222.5 837.2 223.2C837.7 223.9 838.6 225.4 839.0 227.0C839.4 228.6 839.9 232.9 840.2 234.5C840.5 236.1 840.6 238.1 841.2 238.7C841.8 239.3 844.1 237.3 844.7 239.0C845.3 240.7 845.4 246.4 845.7 251.0C846.0 255.6 846.5 267.4 846.8 272.0C847.1 276.6 847.5 282.0 847.7 284.0C847.9 286.0 848.1 286.2 848.4 286.0C848.7 285.8 849.1 284.0 849.5 282.5C849.9 281.0 850.5 277.0 851.0 275.0C851.5 273.0 852.6 269.6 853.2 268.2C853.8 266.8 854.6 265.8 855.2 265.2C855.8 264.6 856.8 265.1 857.3 263.7C857.8 262.3 858.2 257.9 858.5 255.5C858.8 253.1 859.3 248.1 859.7 246.5C860.1 244.9 860.6 244.3 861.2 244.0C861.8 243.7 863.4 243.0 864.0 244.0C864.6 245.0 864.9 248.9 865.2 251.0C865.5 253.1 866.0 257.8 866.3 259.2C866.6 260.6 866.9 261.2 867.2 260.7C867.5 260.2 868.1 257.1 868.5 255.5C868.9 253.9 869.5 249.9 869.9 249.5C870.3 249.1 870.8 251.4 871.2 252.5C871.6 253.6 871.9 257.0 872.7 257.7C873.5 258.4 876.3 259.5 877.0 257.7C877.7 255.9 877.5 248.9 877.7 245.0C877.9 241.1 878.1 232.4 878.4 230.0C878.7 227.6 879.0 227.6 879.5 227.5C880.0 227.4 881.1 228.4 881.7 229.2C882.3 230.0 883.4 231.8 884.0 233.0C884.6 234.2 885.6 236.5 886.2 237.5C886.8 238.5 887.7 238.7 888.2 240.2C888.7 241.7 889.4 245.9 889.7 248.0C890.1 250.1 890.4 254.1 890.7 255.5C891.0 256.9 891.4 257.9 891.8 257.7C892.2 257.5 893.1 254.9 893.7 254.0C894.3 253.1 895.4 251.6 896.0 251.0C896.6 250.4 897.5 250.0 897.8 249.8" stroke-width="2.1"/></g>
</svg>
<div class="btn"></div>
<div class="dash"></div>
<svg class="q" style="left:180px;top:573px" width="24" height="24" viewBox="0 0 24 24" fill="none" stroke="#999"><g transform="translate(11.40 11.65)"><circle cx="0" cy="0" r="8.25" stroke-width="1.3"/><path d="M-2.7 -2.1C-2.7 -3.7 -1.6 -4.6 0 -4.6C1.6 -4.6 2.8 -3.7 2.8 -2.2C2.8 -0.9 2 -0.3 1.1 0.3C0.3 0.8 0 1.3 0 2.5" stroke-width="1.7"/><circle cx="-0.05" cy="4.4" r="1.05" fill="#999" stroke="none"/></g></svg><svg class="q" style="left:483px;top:573px" width="24" height="24" viewBox="0 0 24 24" fill="none" stroke="#999"><g transform="translate(11.60 11.65)"><circle cx="0" cy="0" r="8.25" stroke-width="1.3"/><path d="M-2.7 -2.1C-2.7 -3.7 -1.6 -4.6 0 -4.6C1.6 -4.6 2.8 -3.7 2.8 -2.2C2.8 -0.9 2 -0.3 1.1 0.3C0.3 0.8 0 1.3 0 2.5" stroke-width="1.7"/><circle cx="-0.05" cy="4.4" r="1.05" fill="#999" stroke="none"/></g></svg><svg class="q" style="left:765px;top:573px" width="24" height="24" viewBox="0 0 24 24" fill="none" stroke="#999"><g transform="translate(11.05 11.65)"><circle cx="0" cy="0" r="8.25" stroke-width="1.3"/><path d="M-2.7 -2.1C-2.7 -3.7 -1.6 -4.6 0 -4.6C1.6 -4.6 2.8 -3.7 2.8 -2.2C2.8 -0.9 2 -0.3 1.1 0.3C0.3 0.8 0 1.3 0 2.5" stroke-width="1.7"/><circle cx="-0.05" cy="4.4" r="1.05" fill="#999" stroke="none"/></g></svg><svg class="q" style="left:180px;top:663px" width="24" height="24" viewBox="0 0 24 24" fill="none" stroke="#999"><g transform="translate(11.40 11.65)"><circle cx="0" cy="0" r="8.25" stroke-width="1.3"/><path d="M-2.7 -2.1C-2.7 -3.7 -1.6 -4.6 0 -4.6C1.6 -4.6 2.8 -3.7 2.8 -2.2C2.8 -0.9 2 -0.3 1.1 0.3C0.3 0.8 0 1.3 0 2.5" stroke-width="1.7"/><circle cx="-0.05" cy="4.4" r="1.05" fill="#999" stroke="none"/></g></svg><svg class="q" style="left:515px;top:663px" width="24" height="24" viewBox="0 0 24 24" fill="none" stroke="#999"><g transform="translate(11.45 11.65)"><circle cx="0" cy="0" r="8.25" stroke-width="1.3"/><path d="M-2.7 -2.1C-2.7 -3.7 -1.6 -4.6 0 -4.6C1.6 -4.6 2.8 -3.7 2.8 -2.2C2.8 -0.9 2 -0.3 1.1 0.3C0.3 0.8 0 1.3 0 2.5" stroke-width="1.7"/><circle cx="-0.05" cy="4.4" r="1.05" fill="#999" stroke="none"/></g></svg><svg class="q" style="left:755px;top:663px" width="24" height="24" viewBox="0 0 24 24" fill="none" stroke="#999"><g transform="translate(11.80 11.65)"><circle cx="0" cy="0" r="8.25" stroke-width="1.3"/><path d="M-2.7 -2.1C-2.7 -3.7 -1.6 -4.6 0 -4.6C1.6 -4.6 2.8 -3.7 2.8 -2.2C2.8 -0.9 2 -0.3 1.1 0.3C0.3 0.8 0 1.3 0 2.5" stroke-width="1.7"/><circle cx="-0.05" cy="4.4" r="1.05" fill="#999" stroke="none"/></g></svg><div class="tl"><span class="gl g" style="left:27.26px;top:30.70px;font-size:18.70px;transform:scaleX(1.0368)">25</span><span class="gl g" style="left:54.76px;top:30.70px;font-size:18.70px;transform:scaleX(0.9670)">Jun</span><span class="gl g" style="left:89.38px;top:30.70px;font-size:18.70px;transform:scaleX(1.0164)">2025</span><span class="gl g" style="left:137.92px;top:30.70px;font-size:18.70px;transform:scaleX(1.0428)">09:35:00</span>
<span class="gl g" style="left:116.08px;top:118.70px;font-size:18.00px;transform:scaleX(0.9639)">Rp</span><span class="gl g" style="left:143.89px;top:118.70px;font-size:18.00px;transform:scaleX(1.0382)">2.743</span>
<span class="gl g" style="left:369.25px;top:421.70px;font-size:18.00px;transform:scaleX(0.9639)">Rp</span><span class="gl g" style="left:397.05px;top:421.70px;font-size:18.00px;transform:scaleX(1.0497)">2.647</span>
<span class="gl b w" style="left:75.43px;top:487.70px;font-size:16.20px;transform:scaleX(1.0514)">24</span><span class="gl b w" style="left:99.71px;top:487.70px;font-size:16.20px;transform:scaleX(0.9954)">JAM</span>
<span class="gl b k" style="left:263.93px;top:487.70px;font-size:16.20px;transform:scaleX(0.9741)">MGG</span>
<span class="gl b k" style="left:439.78px;top:487.70px;font-size:16.20px;transform:scaleX(0.9184)">BLN</span>
<span class="gl b k" style="left:610.95px;top:487.70px;font-size:16.20px;transform:scaleX(1.0000)">THN</span>
<span class="gl b k" style="left:765.75px;top:487.70px;font-size:16.20px;transform:scaleX(0.9565)">SEMUA</span>
<div class="t g" id="l1" style="left:26.87px;top:575.70px;font-size:19.40px;letter-spacing:-0.148px;word-spacing:0.000px;transform:scaleX(0.9650)">Kapitalisasi Pasar</div>
<div class="t g" id="l2" style="left:308.59px;top:575.70px;font-size:19.40px;letter-spacing:-0.011px;word-spacing:0.000px;transform:scaleX(0.9650)">Nilai Terdilusi Penuh</div>
<div class="t g" id="l3" style="left:590.03px;top:575.70px;font-size:19.40px;letter-spacing:-0.135px;word-spacing:0.000px;transform:scaleX(0.9650)">Suplai yang Beredar</div>
<div class="t g" id="l4" style="left:27.15px;top:665.70px;font-size:19.40px;letter-spacing:-0.042px;word-spacing:0.000px;transform:scaleX(0.9650)">Suplai Maksimum</div>
<div class="t g" id="l5" style="left:309.23px;top:665.70px;font-size:19.40px;letter-spacing:-0.060px;word-spacing:0.000px;transform:scaleX(0.9650)">Volume Global (24 Jam)</div>
<div class="t g" id="l6" style="left:590.17px;top:665.70px;font-size:19.40px;letter-spacing:0.154px;word-spacing:0.000px;transform:scaleX(0.9650)">Total Nilai Terkunci</div>
<span class="gl b k" style="left:27.46px;top:605.70px;font-size:22.10px;transform:scaleX(0.9630)">Rp</span><span class="gl b k" style="left:62.22px;top:605.70px;font-size:22.10px;transform:scaleX(1.1296)">404,88</span><span class="gl b k" style="left:145.35px;top:605.70px;font-size:22.10px;transform:scaleX(0.9977)">Triliun</span>
<span class="gl b k" style="left:308.56px;top:605.70px;font-size:22.10px;transform:scaleX(0.9630)">Rp</span><span class="gl b k" style="left:343.32px;top:605.70px;font-size:22.10px;transform:scaleX(1.1338)">404,93</span><span class="gl b k" style="left:426.45px;top:605.70px;font-size:22.10px;transform:scaleX(0.9977)">Triliun</span>
<span class="gl b k" style="left:590.16px;top:605.70px;font-size:22.10px;transform:scaleX(1.0648)">149,8</span><span class="gl b k" style="left:655.04px;top:605.70px;font-size:22.10px;transform:scaleX(1.0339)">Miliar</span><span class="gl b k" style="left:720.65px;top:605.70px;font-size:22.10px;transform:scaleX(0.9594)">DOGE</span>
<span class="gl b k" style="left:308.56px;top:695.70px;font-size:22.10px;transform:scaleX(0.9630)">Rp</span><span class="gl b k" style="left:342.59px;top:695.70px;font-size:22.10px;transform:scaleX(1.0441)">18,66</span><span class="gl b k" style="left:407.05px;top:695.70px;font-size:22.10px;transform:scaleX(0.9977)">Triliun</span>
<span class="gl b k" style="left:590.46px;top:695.70px;font-size:22.10px;transform:scaleX(0.9630)">Rp</span><span class="gl b k" style="left:624.17px;top:695.70px;font-size:22.10px;transform:scaleX(1.2372)">0</span>
<div class="t g" id="foot" style="left:26.95px;top:753.70px;font-size:15.90px;letter-spacing:0.290px;word-spacing:0.000px;transform:scaleX(1.0000)">Data didapatkan dari coingecko.com dan ditampilkan untuk tujuan informasi, bukan sebagai nasihat keuangan.</div>
<span class="gl" style="left:27.00px;top:54.55px;font-size:31.23px;font-weight:700;color:#000;-webkit-text-stroke:0.60px #000;transform:scaleX(0.9171)">R</span><span class="gl" style="left:47.28px;top:54.55px;font-size:31.23px;font-weight:700;color:#000;-webkit-text-stroke:0.60px #000;transform:scaleX(1.0400);clip-path:inset(-5px -5px -0.12px -5px)">p</span><span class="gl" style="left:71.40px;top:54.55px;font-size:31.23px;font-weight:700;color:#000;-webkit-text-stroke:0.60px #000;transform:scaleX(1.0730)">2</span><span class="gl" style="left:88.48px;top:54.55px;font-size:31.23px;font-weight:700;color:#000;-webkit-text-stroke:0.60px #000;transform:scaleX(0.9800)">.</span><span class="gl" style="left:95.24px;top:54.55px;font-size:31.23px;font-weight:700;color:#000;-webkit-text-stroke:0.60px #000;transform:scaleX(1.0623)">7</span><span class="gl" style="left:112.58px;top:54.55px;font-size:31.23px;font-weight:700;color:#000;-webkit-text-stroke:0.60px #000;transform:scaleX(1.1161)">0</span><span class="gl" style="left:131.38px;top:54.55px;font-size:31.23px;font-weight:700;color:#000;-webkit-text-stroke:0.60px #000;transform:scaleX(1.1000)">5</span>
<span class="gl" style="left:203.50px;top:60.60px;font-size:22.40px;font-weight:400;color:#2fa56f;-webkit-text-stroke:0.30px #2fa56f;transform:scaleX(1.0636)">5</span><span class="gl" style="left:196.61px;top:60.60px;font-size:22.40px;font-weight:400;color:#2fa56f;-webkit-text-stroke:0.30px #2fa56f;transform:scaleX(1.0800)">.</span><span class="gl" style="left:217.63px;top:60.60px;font-size:22.40px;font-weight:400;color:#2fa56f;-webkit-text-stroke:0.30px #2fa56f;transform:scaleX(1.0894)">4</span><span class="gl" style="left:232.19px;top:60.60px;font-size:22.40px;font-weight:400;color:#2fa56f;-webkit-text-stroke:0.30px #2fa56f;transform:scaleX(0.8162)">%</span>
</div>
<div class="frame"></div>
</div>
</body></html>
